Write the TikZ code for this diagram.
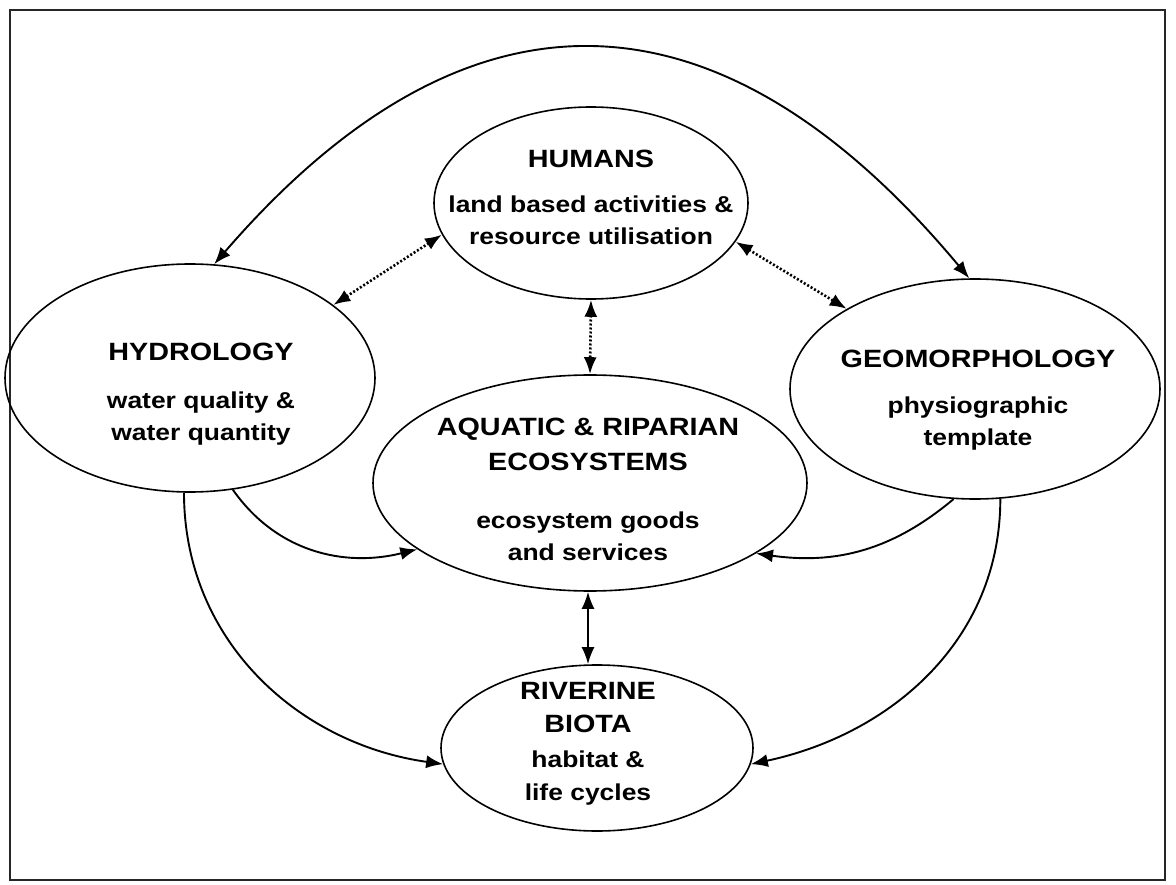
\documentclass[tikz,border=0pt]{standalone}
\usepackage{fontspec}
\setmainfont[FakeStretch=1.15]{Liberation Sans}
\usetikzlibrary{arrows.meta,shapes.geometric}
\begin{document}
\begin{tikzpicture}[x=1pt,y=-1pt,
  oval/.style={draw,ellipse,line width=1.6pt,inner sep=0pt},
  ttl/.style={anchor=base,align=center,font=\fontsize{25}{34}\selectfont\bfseries},
  sub/.style={anchor=base,align=center,font=\fontsize{23}{32}\selectfont\bfseries},
  tip/.style={Latex[length=17pt,width=13pt]},
  conn/.style={line width=1.9pt,-{Latex[length=17pt,width=13pt]}},
  bi/.style={line width=1.9pt,{Latex[length=17pt,width=13pt]}-{Latex[length=17pt,width=13pt]}},
  dots/.style={line width=2.6pt,dash pattern=on 2pt off 2pt,{Latex[length=17pt,width=13pt]}-{Latex[length=17pt,width=13pt]}}
]
\useasboundingbox (0,0) rectangle (1176,885);
\draw[line width=1.5pt,black!85] (10,10) rectangle (1165,880);

\node[oval,minimum width=314pt,minimum height=192pt] (hum) at (591,203) {};
\node[oval,minimum width=370pt,minimum height=228pt] (hyd) at (190,378) {};
\node[oval,minimum width=370pt,minimum height=220pt] (geo) at (975,389) {};
\node[oval,minimum width=434pt,minimum height=216pt] (aqu) at (590,483) {};
\node[oval,minimum width=312pt,minimum height=166pt] (riv) at (597,748) {};

\node[ttl] (humT) at (591,168) {HUMANS};
\node[sub] (humS) at (591,245) {land based activities \&\\resource utilisation};
\node[ttl] (hydT) at (201,361) {HYDROLOGY};
\node[sub] (hydS) at (201,440) {water quality \&\\water quantity};
\node[ttl] (geoT) at (978,367) {GEOMORPHOLOGY};
\node[sub] (geoS) at (978,445) {physiographic\\template};
\node[ttl,font=\fontsize{25}{35}\selectfont\bfseries] (aquT) at (588,470) {AQUATIC \& RIPARIAN\\ECOSYSTEMS};
\node[sub] (aquS) at (588,560) {ecosystem goods\\and services};
\node[ttl,font=\fontsize{25}{33}\selectfont\bfseries] (rivT) at (588,732) {RIVERINE\\BIOTA};
\node[sub,font=\fontsize{23}{33}\selectfont\bfseries] (rivS) at (588,800) {habitat \&\\life cycles};

% top arch
\draw[bi] (hyd.78) .. controls (465,-26) and (717,-24) .. (geo.93);
% dotted links
\draw[dots] (hyd.27) -- (hum.192);
\draw[dots] (hum.-15) -- (geo.148);
\draw[dots] (hum.south) -- (aqu.north);
% aquatic - riverine
\draw[bi] (aqu.south -| 588,0) -- (riv.north -| 588,0);
% to aquatic
\draw[conn] (hyd.-69) to[out=-55,in=194] (aqu.201);
\draw[conn] (geo.-101) to[out=-140,in=-8] (aqu.-23);
% to riverine
\draw[conn] (hyd.-93) to[out=-90,in=172] (riv.186);
\draw[conn] (geo.-77) to[out=-90,in=12] (riv.-6);
\end{tikzpicture}
\end{document}
